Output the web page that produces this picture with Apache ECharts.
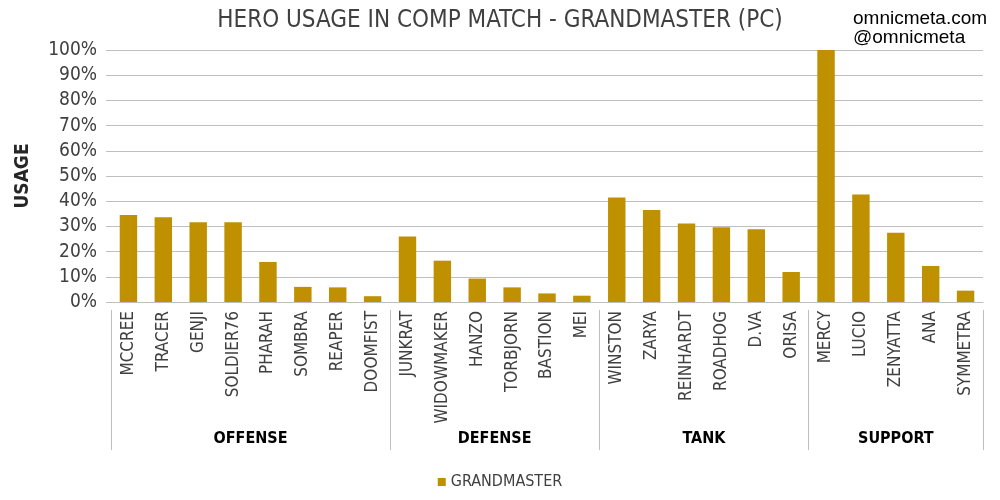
<!DOCTYPE html>
<html>
<head>
<meta charset="utf-8">
<script src="https://cdn.jsdelivr.net/npm/echarts@6/dist/echarts.min.js"></script>
<style>html,body{margin:0;padding:0;background:#fff}#c{width:1000px;height:500px}</style>
</head>
<body>
<div id="c"></div>
<script>
const heroes = ['MCCREE','TRACER','GENJI','SOLDIER76','PHARAH','SOMBRA','REAPER','DOOMFIST',
  'JUNKRAT','WIDOWMAKER','HANZO','TORBJORN','BASTION','MEI',
  'WINSTON','ZARYA','REINHARDT','ROADHOG','D.VA','ORISA',
  'MERCY','LUCIO','ZENYATTA','ANA','SYMMETRA'];
const usage = [34.5,33.6,31.6,31.6,15.9,6.0,5.8,2.3,
  26.0,16.4,9.3,5.8,3.4,2.5,
  41.5,36.5,31.2,29.7,28.9,11.9,
  100,42.7,27.5,14.3,4.5];
const groups = ['OFFENSE','DEFENSE','TANK','SUPPORT'];
const groupSizes = [8,6,6,5];
const yTicks = [0,10,20,30,40,50,60,70,80,90,100];
const seriesName = 'GRANDMASTER';

const FONT = "'DejaVu Sans Condensed','Liberation Sans Narrow',sans-serif";
const edges = [0]; groupSizes.forEach(s => edges.push(edges[edges.length-1] + s));
const mids = groupSizes.map((s,i) => edges[i] + s/2);

const chart = echarts.init(document.getElementById('c'), null, {renderer:'canvas'});
chart.setOption({
  animation: false,
  title: [
    {text: 'HERO USAGE IN COMP MATCH - GRANDMASTER (PC)', left: 'center', top: 4,
     textStyle: {fontFamily: FONT, fontSize: 24, fontWeight: 'normal', color: '#404040'}},
    {text: 'omnicmeta.com\n@omnicmeta', left: 848, top: 4,
     textStyle: {fontFamily: "'Liberation Sans',Arial,sans-serif", fontSize: 19, fontWeight: 'normal', color: '#000', lineHeight: 19}}
  ],
  legend: {
    data: [seriesName], bottom: 5, left: 'center', itemWidth: 8, itemHeight: 8, itemGap: 6,
    icon: 'rect',
    textStyle: {fontFamily: FONT, fontSize: 16, color: '#404040'}
  },
  grid: {left: 111, right: 17, top: 50, bottom: 198, containLabel: false},
  xAxis: [
    {type: 'category', data: heroes, position: 'bottom',
     axisLine: {lineStyle: {color: '#bfbfbf'}},
     axisTick: {alignWithLabel: true, length: 4, lineStyle: {color: '#bfbfbf'}},
     axisLabel: {rotate: 90, interval: 0, margin: 9, fontFamily: FONT, fontSize: 17, color: '#404040'}},
    {type: 'value', min: 0, max: heroes.length, position: 'bottom', offset: 8,
     axisLine: {show: false}, splitLine: {show: false},
     axisTick: {show: true, customValues: edges, length: 140, lineStyle: {color: '#bfbfbf'}},
     axisLabel: {show: true, customValues: mids, margin: 121, fontFamily: FONT, fontSize: 16, fontWeight: 'bold', color: '#000',
       formatter: v => { const i = mids.indexOf(v); return i >= 0 ? groups[i] : ''; }}}
  ],
  yAxis: {
    type: 'value', min: yTicks[0], max: yTicks[yTicks.length-1], interval: 10,
    name: 'USAGE', nameLocation: 'middle', nameRotate: 90, nameGap: 78,
    nameTextStyle: {fontFamily: FONT, fontSize: 19, fontWeight: 'bold', color: '#262626'},
    axisLine: {show: false},
    axisTick: {show: true, length: 5, lineStyle: {color: '#bfbfbf'}},
    splitLine: {lineStyle: {color: '#bfbfbf', width: 1}},
    axisLabel: {formatter: '{value}%', margin: 14, fontFamily: FONT, fontSize: 19, color: '#404040'}
  },
  series: [{
    name: seriesName, type: 'bar', data: usage, barWidth: '50%', xAxisIndex: 0,
    itemStyle: {color: '#BF9000'}
  }]
});
</script>
</body>
</html>
